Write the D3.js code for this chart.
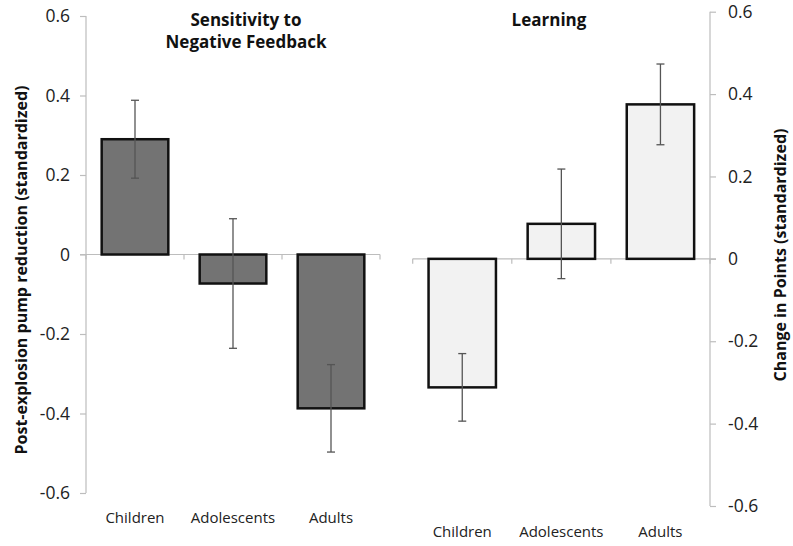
<!DOCTYPE html>
<html><head><meta charset="utf-8">
<script src="https://cdn.jsdelivr.net/npm/d3@7"></script>
<style>
body{margin:0;background:#fff;}
svg{display:block;font-family:"Open Sans",sans-serif;}
</style></head>
<body><svg id="c" width="793" height="546"></svg>
<script>
const categories = ["Children", "Adolescents", "Adults"];
const sensitivityValues = [0.29, -0.073, -0.387];
const sensitivityErrors = [0.098, 0.163, 0.11];
const learningValues = [-0.312, 0.085, 0.375];
const learningErrors = [0.082, 0.133, 0.098];
const tickValues = [0.6, 0.4, 0.2, 0, -0.2, -0.4, -0.6];
const tickLabels = ["0.6", "0.4", "0.2", "0", "-0.2", "-0.4", "-0.6"];
const leftTitle = ["Sensitivity to", "Negative Feedback"];
const rightTitle = ["Learning"];
const leftYLabel = "Post-explosion pump reduction (standardized)";
const rightYLabel = "Change in Points (standardized)";

const svg = d3.select("#c");
const axisColor = "#bdbdbd";

function panel(opt){
  const g = svg.append("g");
  const y = d3.scaleLinear().domain([-0.6, 0.6]).range(opt.yRange);
  const x = d3.scaleBand().domain(categories).range(opt.xRange).padding(0);
  const bw = x.bandwidth() * 0.68;
  const y0 = y(0);

  // vertical axis
  const ax = opt.side === "left" ? d3.axisLeft(y) : d3.axisRight(y);
  ax.tickValues(tickValues).tickSize(6).tickPadding(opt.side === "left" ? 10 : 12)
    .tickFormat(d => tickLabels[tickValues.indexOf(d)]);
  const axG = g.append("g").attr("transform", `translate(${opt.axisX},0)`).call(ax);
  axG.select(".domain").attr("stroke", axisColor).attr("stroke-width", 1.2)
     .attr("d", `M0,${y(0.6)}V${y(-0.6)}`);
  axG.selectAll(".tick line").attr("stroke", axisColor).attr("stroke-width", 1.2);
  axG.selectAll(".tick text").attr("font-size", 17.5).attr("fill", "#222")
     .attr("font-family", '"Open Sans",sans-serif');

  // zero baseline with category boundary ticks
  const x0 = opt.xRange[0], x1 = opt.xRange[1];
  const lineStart = opt.side === "left" ? x0 - 6 : x0;
  const lineEnd = opt.side === "left" ? x1 : x1 + 6;
  g.append("line").attr("x1", lineStart).attr("x2", lineEnd).attr("y1", y0).attr("y2", y0)
    .attr("stroke", axisColor).attr("stroke-width", 1.2);
  const bounds = categories.map(c => x(c)).concat([x1]);
  g.selectAll(".bt").data(bounds).enter().append("line")
    .attr("x1", d => d).attr("x2", d => d).attr("y1", y0).attr("y2", y0 + 5)
    .attr("stroke", axisColor).attr("stroke-width", 1.2);

  // bars
  g.selectAll(".bar").data(opt.values).enter().append("rect")
    .attr("x", (d,i) => x(categories[i]) + x.bandwidth()/2 - bw/2)
    .attr("width", bw)
    .attr("y", d => Math.min(y(d), y0))
    .attr("height", d => Math.abs(y(d) - y0))
    .attr("fill", opt.fill).attr("stroke", "#111").attr("stroke-width", 2.5);

  // error bars
  const eb = g.selectAll(".eb").data(opt.values).enter().append("g")
    .attr("transform", (d,i) => `translate(${x(categories[i]) + x.bandwidth()/2},0)`);
  eb.append("line").attr("y1", (d,i) => y(d + opt.errors[i])).attr("y2", (d,i) => y(d - opt.errors[i]))
    .attr("stroke", "#555").attr("stroke-width", 1.3);
  eb.append("line").attr("x1", -4).attr("x2", 4)
    .attr("y1", (d,i) => y(d + opt.errors[i])).attr("y2", (d,i) => y(d + opt.errors[i]))
    .attr("stroke", "#555").attr("stroke-width", 1.3);
  eb.append("line").attr("x1", -4).attr("x2", 4)
    .attr("y1", (d,i) => y(d - opt.errors[i])).attr("y2", (d,i) => y(d - opt.errors[i]))
    .attr("stroke", "#555").attr("stroke-width", 1.3);

  // category labels
  g.selectAll(".cl").data(categories).enter().append("text")
    .attr("x", d => x(d) + x.bandwidth()/2).attr("y", opt.catY)
    .attr("text-anchor", "middle").attr("font-size", 15).attr("fill", "#222").text(d => d);

  // title
  g.selectAll(".tt").data(opt.title).enter().append("text")
    .attr("x", opt.titleX).attr("y", (d,i) => opt.titleY + i * 22)
    .attr("text-anchor", "middle").attr("font-size", 17).attr("font-weight", "bold")
    .attr("fill", "#111").text(d => d);

  // y label
  g.append("text").attr("transform", `translate(${opt.labelX},${opt.labelY}) rotate(-90)`)
    .attr("text-anchor", "middle").attr("font-size", 16).attr("font-weight", "bold")
    .attr("fill", "#111").text(opt.yLabel);
}

panel({side:"left", yRange:[493, 16], xRange:[86, 380], axisX:86, values:sensitivityValues,
  errors:sensitivityErrors, fill:"#737373", catY:523, title:leftTitle, titleX:246, titleY:26,
  yLabel:leftYLabel, labelX:27, labelY:270});
panel({side:"right", yRange:[506, 11.7], xRange:[412.7, 710], axisX:710, values:learningValues,
  errors:learningErrors, fill:"#f2f2f2", catY:537, title:rightTitle, titleX:549, titleY:26,
  yLabel:rightYLabel, labelX:786, labelY:255});
</script></body></html>
